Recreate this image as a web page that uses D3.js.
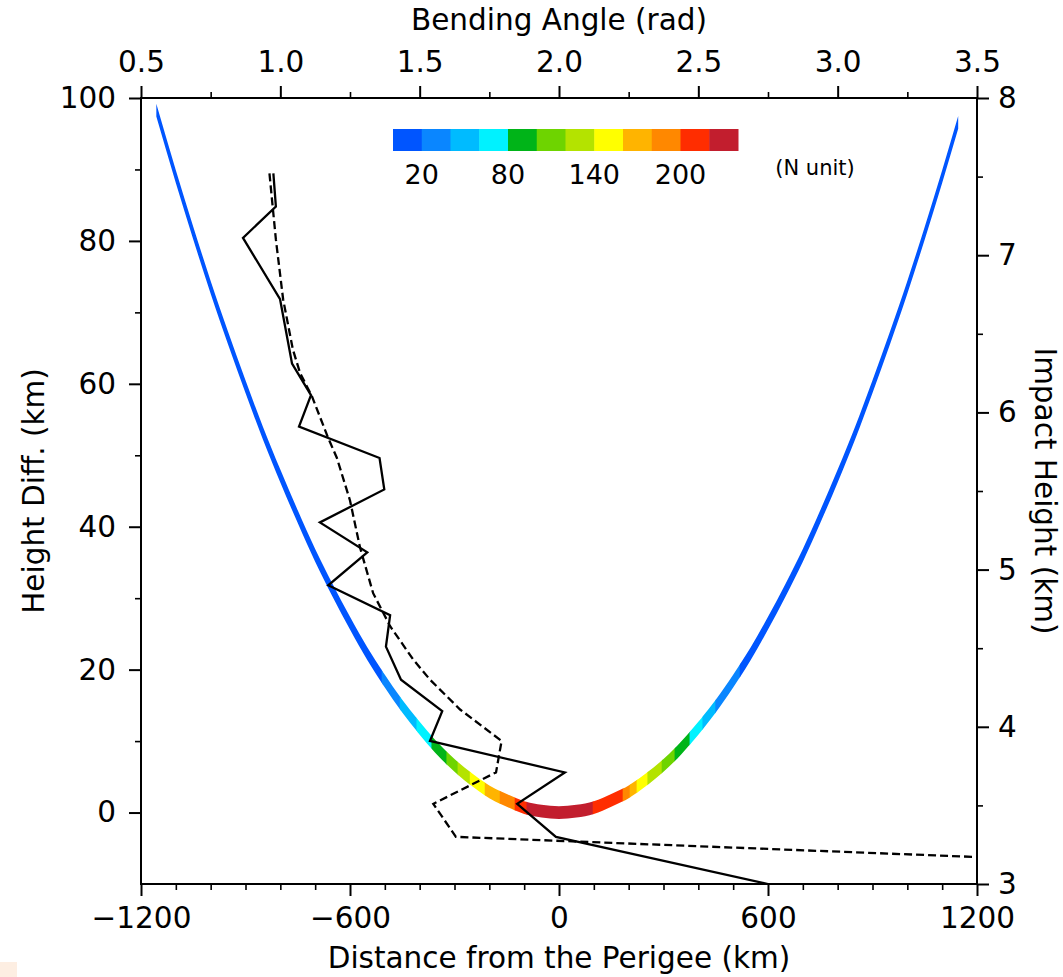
<!DOCTYPE html>
<html><head><meta charset="utf-8">
<script src="https://cdn.jsdelivr.net/npm/d3@7"></script>
<style>body{margin:0;background:#fff}svg{display:block}text{font-family:"DejaVu Sans",sans-serif}</style>
</head><body>
<script>
// ---------- data ----------
const distTicks = [-1200, -600, 0, 600, 1200];
const distMinor = [-1100,-1000,-900,-800,-700,-500,-400,-300,-200,-100,100,200,300,400,500,700,800,900,1000,1100];
const angleTicks = [0.5, 1.0, 1.5, 2.0, 2.5, 3.0, 3.5];
const angleMinor = [0.75, 1.25, 1.75, 2.25, 2.75, 3.25];
const heightTicks = [0, 20, 40, 60, 80, 100];
const heightMinor = [10, 30, 50, 70, 90];
const impactTicks = [3, 4, 5, 6, 7, 8];
const impactMinor = [3.5, 4.5, 5.5, 6.5, 7.5];

// ray path: distance from perigee (km) and height difference (km)
const curveDist = [-1156,-1100,-1050,-1000,-950,-900,-850,-800,-750,-700,-650,-600,-550,-500,-450,-400,-350,-300,-250,-200,-150,-100,-50,0,50,100,150,200,250,300,350,400,450,500,550,600,650,700,750,800,850,900,950,1000,1050,1100,1146];
const curveHeight = [98.3,89.0,81.1,73.5,66.4,59.6,53.1,47.1,41.4,36.0,31.1,26.5,22.2,18.4,14.9,11.8,9.0,6.6,4.6,2.9,1.7,0.7,0.2,0,0.2,0.7,1.7,2.9,4.6,6.6,9.0,11.8,14.9,18.4,22.2,26.5,31.1,36.0,41.4,47.1,53.1,59.6,66.4,73.5,81.1,89.0,96.6];
// refractivity along the path (N units), piecewise by distance
const segFrom = [-1160,-508,-456,-408,-365,-322,-290,-255,-212,-169,-126,-92,98,184,204,224,255,296,333,376,413,450,520];
const segTo   = [-508,-456,-408,-365,-322,-290,-255,-212,-169,-126,-92,98,184,204,224,255,296,333,376,413,450,520,1150];
const segN    = [10,30,50,70,90,110,130,150,170,190,210,230,210,190,170,150,130,110,90,70,50,30,10];

// colour bar
const nEdges = [0,20,40,60,80,100,120,140,160,180,200,220,240];
const nColors = ["#0055ff","#0a86ff","#00bbff","#00f2ff","#00b418","#6ed400","#b4e300","#ffff00","#ffb400","#ff8800","#ff2d00","#c21e2e"];
const nTickVals = [20, 80, 140, 200];

// bending angle (rad) vs impact height (km)
const solidAngle  = [0.975,0.984,0.866,0.999,1.042,1.110,1.067,1.356,1.373,1.142,1.312,1.172,1.394,1.379,1.433,1.581,1.537,2.021,1.850,1.989,2.750];
const solidImpact = [7.52,7.31,7.11,6.72,6.31,6.11,5.91,5.71,5.51,5.30,5.11,4.90,4.71,4.51,4.30,4.10,3.91,3.71,3.51,3.30,3.00];
const dashAngle  = [0.961,0.984,1.010,1.045,1.071,1.114,1.171,1.203,1.250,1.286,1.333,1.394,1.476,1.537,1.645,1.794,1.774,1.549,1.630,6.0];
const dashImpact = [7.52,7.10,6.72,6.40,6.25,6.10,5.84,5.71,5.44,5.14,4.85,4.64,4.43,4.30,4.11,3.91,3.71,3.51,3.30,3.00];

// ---------- chart ----------
const W = 1063, H = 977;
const L = 141, R = 977, T = 98, B = 884;
const svg = d3.select("body").append("svg").attr("width", W).attr("height", H);

const x = d3.scaleLinear().domain([-1200, 1200]).range([L, R]);
const xTop = d3.scaleLinear().domain([0.5, 3.5]).range([L, R]);
const y = d3.scaleLinear().domain([-10, 100]).range([B, T]);
const yR = d3.scaleLinear().domain([3, 8]).range([B, T]);
const color = d3.scaleThreshold().domain(nEdges.slice(1, -1)).range(nColors);

const defs = svg.append("defs");
defs.append("clipPath").attr("id", "plotclip").append("rect")
  .attr("x", L).attr("y", T).attr("width", R - L).attr("height", B - T);

// small artefact bottom-left
svg.append("rect").attr("x", 0).attr("y", 962).attr("width", 17).attr("height", 15).attr("fill", "#fdeee2");

// ray path band coloured by N
const pts = curveDist.map((d, i) => ({d, h: curveHeight[i]}));
const half = 6.4;
const band = d3.area().x(p => x(p.d)).y0(p => y(p.h) - half).y1(p => y(p.h) + half).curve(d3.curveMonotoneX);
const bandG = svg.append("g").attr("clip-path", "url(#plotclip)");
segN.forEach((n, i) => {
  const id = "seg" + i;
  defs.append("clipPath").attr("id", id).append("rect")
    .attr("x", x(segFrom[i]) - 0.4).attr("y", 0)
    .attr("width", x(segTo[i]) - x(segFrom[i]) + 0.8).attr("height", H);
  bandG.append("path").attr("d", band(pts)).attr("fill", color(n)).attr("clip-path", `url(#${id})`);
});

// lines
const lineG = svg.append("g").attr("clip-path", "url(#plotclip)");
const ln = d3.line().x(p => xTop(p[0])).y(p => yR(p[1]));
lineG.append("path").attr("d", ln(dashAngle.map((a, i) => [a, dashImpact[i]])))
  .attr("fill", "none").attr("stroke", "#000").attr("stroke-width", 2.3).attr("stroke-dasharray", "8,4");
lineG.append("path").attr("d", ln(solidAngle.map((a, i) => [a, solidImpact[i]])))
  .attr("fill", "none").attr("stroke", "#000").attr("stroke-width", 2.3).attr("stroke-linejoin", "miter");

// axes
const FS = 29.5;
function styleAxis(g) {
  g.attr("font-family", "DejaVu Sans").attr("font-size", FS);
  g.select(".domain").remove();
  g.selectAll(".tick line").attr("stroke", "#000").attr("stroke-width", 2);
  g.selectAll(".tick text").attr("fill", "#000");
}
function minor(axis, vals, tr) {
  svg.append("g").attr("transform", tr).call(axis.tickValues(vals).tickSize(6).tickFormat(""))
    .call(g => { g.select(".domain").remove(); g.selectAll(".tick line").attr("stroke", "#000").attr("stroke-width", 1.6); });
}
svg.append("g").attr("transform", `translate(0,${B})`)
  .call(d3.axisBottom(x).tickValues(distTicks).tickSize(12).tickPadding(11).tickFormat(d3.format("d"))).call(styleAxis);
minor(d3.axisBottom(x), distMinor, `translate(0,${B})`);
svg.append("g").attr("transform", `translate(0,${T})`)
  .call(d3.axisTop(xTop).tickValues(angleTicks).tickSize(12).tickPadding(14).tickFormat(d3.format(".1f"))).call(styleAxis);
minor(d3.axisTop(xTop), angleMinor, `translate(0,${T})`);
svg.append("g").attr("transform", `translate(${L},0)`)
  .call(d3.axisLeft(y).tickValues(heightTicks).tickSize(12).tickPadding(13).tickFormat(d3.format("d"))).call(styleAxis);
minor(d3.axisLeft(y), heightMinor, `translate(${L},0)`);
svg.append("g").attr("transform", `translate(${R},0)`)
  .call(d3.axisRight(yR).tickValues(impactTicks).tickSize(12).tickPadding(9).tickFormat(d3.format("d"))).call(styleAxis);
minor(d3.axisRight(yR), impactMinor, `translate(${R},0)`);

// frame
svg.append("rect").attr("x", L).attr("y", T).attr("width", R - L).attr("height", B - T)
  .attr("fill", "none").attr("stroke", "#000").attr("stroke-width", 2);

// axis titles
svg.append("text").attr("x", (L + R) / 2).attr("y", 30).attr("text-anchor", "middle").attr("font-size", FS).text("Bending Angle (rad)");
svg.append("text").attr("x", (L + R) / 2).attr("y", 968).attr("text-anchor", "middle").attr("font-size", FS).text("Distance from the Perigee (km)");
svg.append("text").attr("transform", `translate(44,${(T + B) / 2}) rotate(-90)`).attr("text-anchor", "middle").attr("font-size", FS).text("Height Diff. (km)");
svg.append("text").attr("transform", `translate(1035,${(T + B) / 2}) rotate(90)`).attr("text-anchor", "middle").attr("font-size", FS).text("Impact Height (km)");

// colour bar
const cb = d3.scaleLinear().domain([0, 240]).range([393, 738]);
svg.append("g").selectAll("rect").data(nColors).join("rect")
  .attr("x", (c, i) => cb(nEdges[i])).attr("width", (c, i) => cb(nEdges[i + 1]) - cb(nEdges[i]) + 0.5)
  .attr("y", 129).attr("height", 22).attr("fill", c => c);
svg.append("g").selectAll("text").data(nTickVals).join("text")
  .attr("x", d => cb(d)).attr("y", 184).attr("text-anchor", "middle").attr("font-size", 27).text(d => d);
svg.append("text").attr("x", 815).attr("y", 175).attr("text-anchor", "middle").attr("font-size", 21).text("(N unit)");
</script>
</body></html>
